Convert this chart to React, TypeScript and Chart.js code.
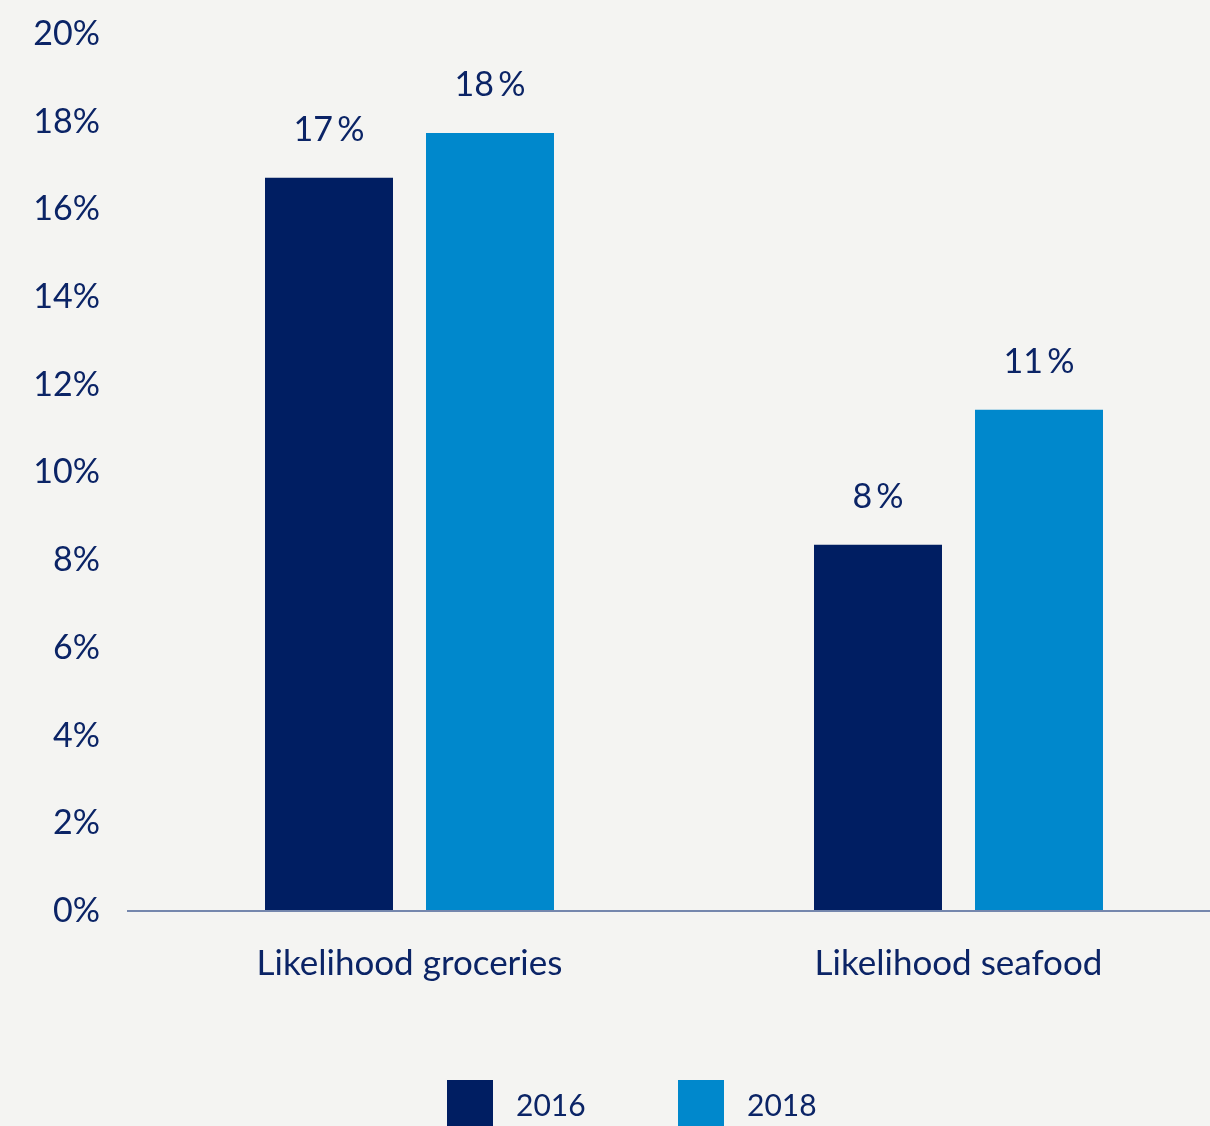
import React, { useEffect, useRef } from "react";
import { Chart, registerables } from "chart.js";

Chart.register(...registerables);

const categories = ["Likelihood groceries", "Likelihood seafood"];
const seriesNames = ["2016", "2018"];
const values2016 = [16.72, 8.35];
const values2018 = [17.74, 11.43];
const labels2016 = ["17\u2009%", "8\u2009%"];
const labels2018 = ["18\u2009%", "11\u2009%"];
const yTicks = [0, 2, 4, 6, 8, 10, 12, 14, 16, 18, 20];

const NAVY = "#001E62";
const BLUE = "#0088CC";
const TEXT = "#0B2466";
const BG = "#F4F4F2";
const FONT = "Lato";

export default function App() {
  const ref = useRef<HTMLCanvasElement | null>(null);

  useEffect(() => {
    const canvas = ref.current;
    if (!canvas) return;
    document.body.style.margin = "0";
    document.body.style.overflow = "hidden";
    document.body.style.background = BG;
    const valueLabels = [labels2016, labels2018];

    const bgPlugin = {
      id: "bg",
      beforeDraw(chart: any) {
        const ctx = chart.ctx;
        ctx.save();
        ctx.fillStyle = BG;
        ctx.fillRect(0, 0, chart.width, chart.height);
        ctx.restore();
      },
    };

    const axisLine = {
      id: "axisLine",
      afterDatasetsDraw(chart: any) {
        const ctx = chart.ctx;
        const y = chart.scales.y.getPixelForValue(0);
        ctx.save();
        ctx.strokeStyle = "#7587AD";
        ctx.lineWidth = 2;
        ctx.beginPath();
        ctx.moveTo(chart.chartArea.left - 8, y);
        ctx.lineTo(chart.width, y);
        ctx.stroke();
        ctx.restore();
      },
    };

    const dataLabels = {
      id: "dataLabels",
      afterDatasetsDraw(chart: any) {
        const ctx = chart.ctx;
        ctx.save();
        ctx.fillStyle = TEXT;
        ctx.font = `34px ${FONT}`;
        ctx.textAlign = "center";
        ctx.textBaseline = "middle";
        chart.data.datasets.forEach((_ds: any, di: number) => {
          const meta = chart.getDatasetMeta(di);
          meta.data.forEach((bar: any, i: number) => {
            ctx.fillText(valueLabels[di][i], bar.x, bar.y - 48);
          });
        });
        ctx.restore();
      },
    };

    const legendPlugin = {
      id: "customLegend",
      afterDraw(chart: any) {
        const ctx = chart.ctx;
        const colors = [NAVY, BLUE];
        const starts = [447, 678];
        ctx.save();
        ctx.font = `30px ${FONT}`;
        ctx.textBaseline = "middle";
        ctx.textAlign = "left";
        seriesNames.forEach((name, i) => {
          ctx.fillStyle = colors[i];
          ctx.fillRect(starts[i], 1080, 46, 46);
          ctx.fillStyle = TEXT;
          ctx.fillText(name, starts[i] + 69, 1106);
        });
        ctx.restore();
      },
    };

    const chart = new Chart(canvas, {
      type: "bar",
      data: {
        labels: categories,
        datasets: [
          {
            label: seriesNames[0],
            data: values2016,
            backgroundColor: NAVY,
            categoryPercentage: 0.5865,
            barPercentage: 0.795,
          },
          {
            label: seriesNames[1],
            data: values2018,
            backgroundColor: BLUE,
            categoryPercentage: 0.5865,
            barPercentage: 0.795,
          },
        ],
      },
      options: {
        responsive: false,
        animation: false,
        layout: { autoPadding: false, padding: { top: 34, left: 0, right: 0, bottom: 0 } },
        plugins: {
          legend: { display: false },
          tooltip: { enabled: false },
        },
        scales: {
          x: {
            grid: { display: false },
            border: { display: false },
            ticks: {
              color: TEXT,
              font: { family: FONT, size: 35 },
              padding: 24,
            },
            afterFit(scale: any) {
              scale.height = 215;
              scale.paddingLeft = 0;
              scale.paddingRight = 0;
            },
          },
          y: {
            min: 0,
            max: 20,
            grid: { display: false, drawTicks: false },
            border: { display: false },
            afterBuildTicks(scale: any) {
              scale.ticks = yTicks.map((v) => ({ value: v }));
            },
            ticks: {
              color: TEXT,
              font: { family: FONT, size: 34 },
              padding: 35,
              callback: (v: any) => `${v}%`,
            },
            afterFit(scale: any) {
              scale.width = 135;
              scale.paddingTop = 0;
              scale.paddingBottom = 0;
            },
          },
        },
      },
      plugins: [bgPlugin, axisLine, dataLabels, legendPlugin],
    });

    return () => chart.destroy();
  }, []);

  return (
    <div
      style={{
        position: "fixed",
        left: 0,
        top: 0,
        width: 1210,
        height: 1126,
        overflow: "hidden",
        background: BG,
      }}
    >
      <canvas ref={ref} width={1233} height={1126} style={{ display: "block" }} />
    </div>
  );
}
